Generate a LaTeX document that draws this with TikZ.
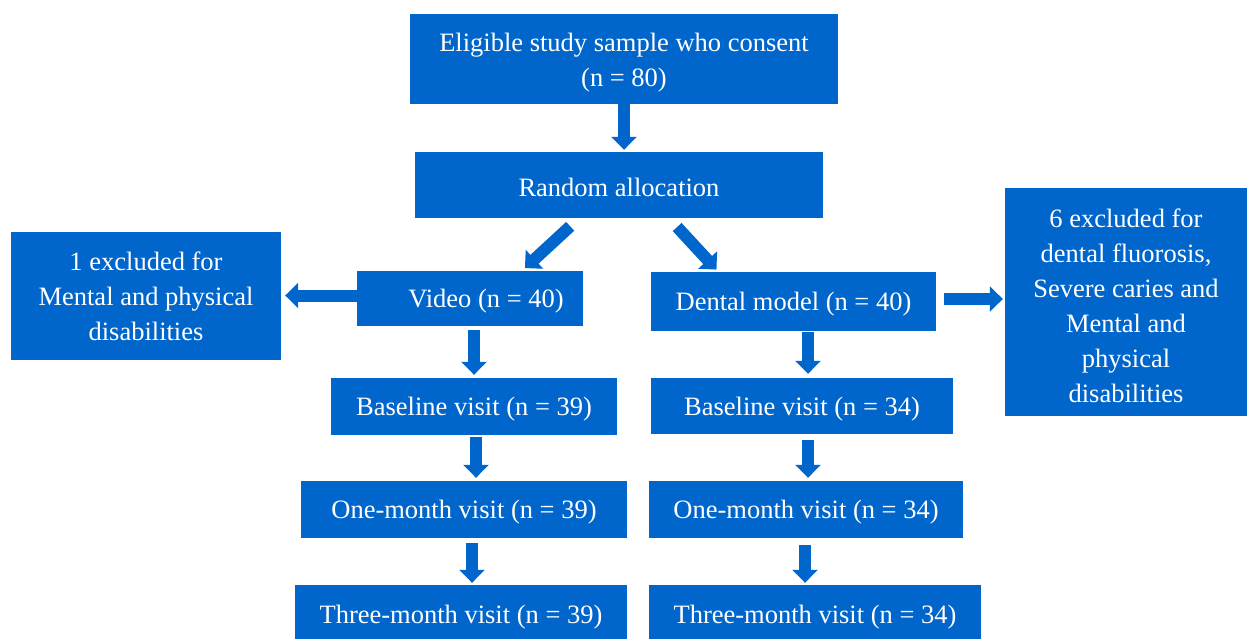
\documentclass[tikz,border=0pt]{standalone}
\usepackage{fontspec}
\setmainfont{Liberation Serif}
\usetikzlibrary{arrows.meta,positioning,calc}
\definecolor{boxblue}{HTML}{0066CC}
\newcommand{\lowstrut}{\rule{0pt}{26pt}}

\begin{document}
\begin{tikzpicture}[x=1pt,y=-1pt,
  box/.style={fill=boxblue,text=white,inner sep=0pt,align=center,
    execute at begin node={\rule{0pt}{24pt}},font=\fontsize{26.5}{35}\selectfont},
  flow/.style={draw=boxblue,line width=12pt,
    -{Triangle[width=25pt,length=13pt]}}]
\useasboundingbox (0,0) rectangle (1248,639);
% boxes
\node[box,minimum width=428pt,minimum height=90pt] (consent) at (624,59)
  {\lowstrut Eligible study sample who consent\\(n = 80)};
\node[box,minimum width=408pt,minimum height=66pt] (random) at (619,185) {Random allocation};
\node[box,minimum width=270pt,minimum height=128pt] (exclL) at (146,296)
  {1 excluded for\\Mental and physical\\disabilities};
\node[box,minimum width=226pt,minimum height=55pt] (video) at (470,298.5) {\hspace*{32pt}Video (n = 40)};
\node[box,minimum width=285pt,minimum height=59pt] (model) at (793.5,301.5) {Dental model (n = 40)};
\node[box,minimum width=242pt,minimum height=228pt] (exclR) at (1126,302)
  {\lowstrut 6 excluded for\\dental fluorosis,\\Severe caries and\\Mental and\\physical\\disabilities};
\node[box,minimum width=286pt,minimum height=57pt] (baseL) at (474,406.5) {Baseline visit (n = 39)};
\node[box,minimum width=302pt,minimum height=56pt] (baseR) at (802,406) {Baseline visit (n = 34)};
\node[box,minimum width=326pt,minimum height=57pt] (oneL) at (464,509.5) {One-month visit (n = 39)};
\node[box,minimum width=314pt,minimum height=57pt] (oneR) at (806,509.5) {One-month visit (n = 34)};
\node[box,minimum width=332pt,minimum height=58pt] (threeL) at (461,614) {Three-month visit (n = 39)};
\node[box,minimum width=332pt,minimum height=58pt] (threeR) at (815,614) {Three-month visit (n = 34)};
% arrows
\draw[flow,shorten >=2pt] (consent.south) -- (consent.south |- random.north);
\draw[flow,shorten <=12pt,shorten >=4pt] ([xshift=-40pt]random.south) -- ([xshift=52pt]video.north);
\draw[flow,shorten <=12pt,shorten >=3pt] ([xshift=50pt]random.south) -- ([xshift=-75pt]model.north);
\draw[flow,shorten >=4pt] ([yshift=3pt]video.west) -- ([yshift=3pt]video.west -| exclL.east);
\draw[flow,shorten <=8pt,shorten >=2pt] ([yshift=2.5pt]model.east) -- ([yshift=2.5pt]model.east -| exclR.west);
\draw[flow,shorten <=4pt,shorten >=3pt] ([xshift=4pt]video.south) -- ([xshift=4pt]video.south |- baseL.north);
\draw[flow,shorten <=2pt,shorten >=3pt] ([xshift=2pt]baseL.south) -- ([xshift=2pt]baseL.south |- oneL.north);
\draw[flow,shorten <=5pt,shorten >=2pt] ([xshift=8pt]oneL.south) -- ([xshift=8pt]oneL.south |- threeL.north);
\draw[flow,shorten <=1pt,shorten >=4pt] ([xshift=14.5pt]model.south) -- ([xshift=14.5pt]model.south |- baseR.north);
\draw[flow,shorten <=6pt,shorten >=3pt] ([xshift=6pt]baseR.south) -- ([xshift=6pt]baseR.south |- oneR.north);
\draw[flow,shorten <=7pt,shorten >=2pt] ([xshift=-1pt]oneR.south) -- ([xshift=-1pt]oneR.south |- threeR.north);
\end{tikzpicture}
\end{document}
